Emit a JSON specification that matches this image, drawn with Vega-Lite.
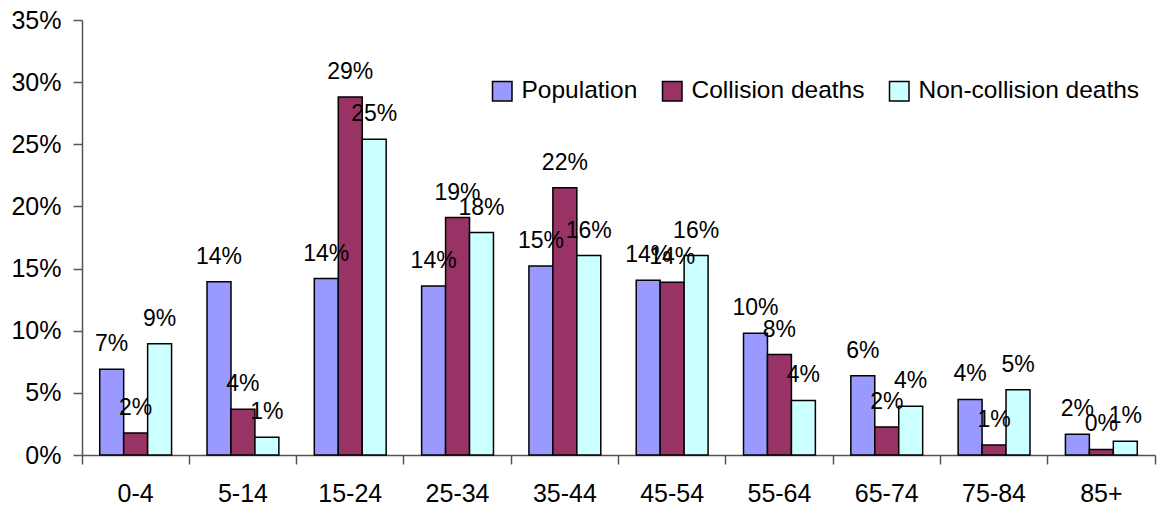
{
  "$schema": "https://vega.github.io/schema/vega-lite/v6.json",
  "width": 1073,
  "height": 435,
  "autosize": "none",
  "padding": {"left": 82, "top": 20, "right": 3, "bottom": 53},
  "background": "white",
  "config": {"font": "Liberation Sans", "view": {"stroke": null}},
  "data": {
    "values": [
      {"age": "0-4", "series": "Population", "value": 0.069},
      {"age": "0-4", "series": "Collision deaths", "value": 0.0177},
      {"age": "0-4", "series": "Non-collision deaths", "value": 0.0896},
      {"age": "5-14", "series": "Population", "value": 0.1394},
      {"age": "5-14", "series": "Collision deaths", "value": 0.0369},
      {"age": "5-14", "series": "Non-collision deaths", "value": 0.0142},
      {"age": "15-24", "series": "Population", "value": 0.142},
      {"age": "15-24", "series": "Collision deaths", "value": 0.288},
      {"age": "15-24", "series": "Non-collision deaths", "value": 0.254},
      {"age": "25-34", "series": "Population", "value": 0.136},
      {"age": "25-34", "series": "Collision deaths", "value": 0.191},
      {"age": "25-34", "series": "Non-collision deaths", "value": 0.179},
      {"age": "35-44", "series": "Population", "value": 0.152},
      {"age": "35-44", "series": "Collision deaths", "value": 0.215},
      {"age": "35-44", "series": "Non-collision deaths", "value": 0.1605},
      {"age": "45-54", "series": "Population", "value": 0.1407},
      {"age": "45-54", "series": "Collision deaths", "value": 0.139},
      {"age": "45-54", "series": "Non-collision deaths", "value": 0.1605},
      {"age": "55-64", "series": "Population", "value": 0.0979},
      {"age": "55-64", "series": "Collision deaths", "value": 0.0808},
      {"age": "55-64", "series": "Non-collision deaths", "value": 0.0439},
      {"age": "65-74", "series": "Population", "value": 0.0637},
      {"age": "65-74", "series": "Collision deaths", "value": 0.0225},
      {"age": "65-74", "series": "Non-collision deaths", "value": 0.0393},
      {"age": "75-84", "series": "Population", "value": 0.0447},
      {"age": "75-84", "series": "Collision deaths", "value": 0.008},
      {"age": "75-84", "series": "Non-collision deaths", "value": 0.0524},
      {"age": "85+", "series": "Population", "value": 0.0166},
      {"age": "85+", "series": "Collision deaths", "value": 0.0045},
      {"age": "85+", "series": "Non-collision deaths", "value": 0.011}
    ]
  },
  "encoding": {
    "x": {
      "field": "age",
      "type": "nominal",
      "sort": ["0-4", "5-14", "15-24", "25-34", "35-44", "45-54", "55-64", "65-74", "75-84", "85+"],
      "scale": {"paddingInner": 0, "paddingOuter": 0},
      "axis": {
        "title": null,
        "labelAngle": 0,
        "labelFontSize": 25,
        "labelColor": "black",
        "bandPosition": 1,
        "tickExtra": true,
        "tickSize": 9,
        "labelPadding": 17,
        "domainColor": "#555555",
        "tickColor": "#555555",
        "domainWidth": 1.5,
        "tickWidth": 1.5,
        "grid": false
      }
    },
    "xOffset": {
      "field": "series",
      "type": "nominal",
      "sort": ["Population", "Collision deaths", "Non-collision deaths"],
      "scale": {"paddingInner": 0, "paddingOuter": 0.74}
    },
    "y": {
      "field": "value",
      "type": "quantitative",
      "stack": null,
      "scale": {"domain": [0, 0.35], "nice": false},
      "axis": {
        "title": null,
        "values": [0, 0.05, 0.1, 0.15, 0.2, 0.25, 0.3, 0.35],
        "format": ".0%",
        "labelFontSize": 25,
        "labelColor": "black",
        "tickSize": 9,
        "labelPadding": 12,
        "domainColor": "#555555",
        "tickColor": "#555555",
        "domainWidth": 1.5,
        "tickWidth": 1.5,
        "grid": false
      }
    }
  },
  "layer": [
    {
      "mark": {"type": "bar", "stroke": "black", "strokeWidth": 1.5},
      "encoding": {
        "color": {
          "field": "series",
          "type": "nominal",
          "sort": ["Population", "Collision deaths", "Non-collision deaths"],
          "scale": {
            "domain": ["Population", "Collision deaths", "Non-collision deaths"],
            "range": ["#9999FF", "#993366", "#CCFFFF"]
          },
          "legend": {
            "orient": "none",
            "legendX": 408,
            "legendY": 59,
            "direction": "horizontal",
            "title": null,
            "labelFontSize": 24.5,
            "labelLimit": 0,
            "labelColor": "black",
            "symbolType": "square",
            "symbolSize": 380,
            "symbolStrokeColor": "black",
            "symbolStrokeWidth": 1.5,
            "symbolOpacity": 1,
            "labelOffset": 7,
            "columnPadding": 21,
            "padding": 0
          }
        }
      }
    },
    {
      "mark": {"type": "text", "baseline": "alphabetic", "dy": -18, "fontSize": 23, "color": "black"},
      "encoding": {
        "text": {"field": "value", "type": "quantitative", "format": ".0%"}
      }
    }
  ]
}
